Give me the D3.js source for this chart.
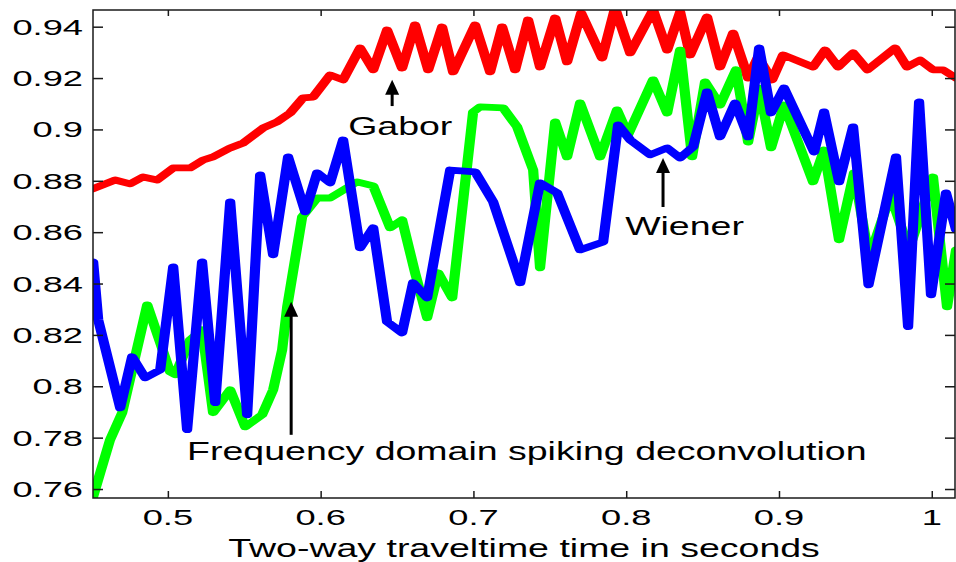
<!DOCTYPE html>
<html>
<head>
<meta charset="utf-8">
<script src="https://cdn.jsdelivr.net/npm/d3@7"></script>
<style>
  html, body { margin: 0; padding: 0; background: #fff; }
  svg { display: block; }
  text { font-family: "Liberation Sans", Arial, Helvetica, sans-serif; fill: #000; }
</style>
</head>
<body>
<svg id="chart" width="956" height="562"></svg>
<script>
// Two-way traveltime (s) and correlation values for each deconvolution method
const gaborT = [0.4505,0.4655,0.4753,0.4838,0.4930,0.5035,0.5146,0.5231,0.5296,0.5408,0.5493,0.5624,0.5715,0.5800,0.5885,0.5951,0.6062,0.6147,0.6258,0.6344,0.6435,0.6533,0.6618,0.6704,0.6795,0.6867,0.7011,0.7109,0.7188,0.7273,0.7358,0.7436,0.7535,0.7613,0.7705,0.7842,0.7927,0.8026,0.8176,0.8268,0.8353,0.8418,0.8529,0.8614,0.8700,0.8798,0.8863,0.8955,0.9027,0.9223,0.9302,0.9387,0.9485,0.9579,0.9760,0.9838,0.9923,1.0008,1.0074,1.0159];
const gaborV = [0.8768,0.8803,0.8788,0.8815,0.8803,0.8850,0.8850,0.8881,0.8893,0.8928,0.8947,0.9006,0.9029,0.9064,0.9123,0.9126,0.9212,0.9193,0.9317,0.9232,0.9387,0.9239,0.9407,0.9232,0.9399,0.9224,0.9407,0.9224,0.9399,0.9232,0.9426,0.9243,0.9434,0.9263,0.9453,0.9278,0.9473,0.9298,0.9465,0.9309,0.9457,0.9290,0.9438,0.9243,0.9375,0.9200,0.9282,0.9193,0.9290,0.9243,0.9309,0.9243,0.9298,0.9232,0.9317,0.9243,0.9270,0.9232,0.9232,0.9200];

const freqT = [0.4511,0.4557,0.4622,0.4701,0.4865,0.5015,0.5048,0.5146,0.5224,0.5296,0.5408,0.5506,0.5617,0.5689,0.5748,0.5781,0.5879,0.5977,0.6062,0.6239,0.6344,0.6455,0.6533,0.6618,0.6697,0.6769,0.6861,0.6998,0.7044,0.7194,0.7286,0.7391,0.7436,0.7535,0.7613,0.7698,0.7829,0.7940,0.8012,0.8176,0.8268,0.8353,0.8431,0.8516,0.8614,0.8719,0.8798,0.8870,0.8948,0.9033,0.9223,0.9295,0.9393,0.9491,0.9590,0.9730,0.9851,1.0008,1.0100,1.0159];
const freqV = [0.7570,0.7663,0.7792,0.7897,0.8317,0.8056,0.8045,0.8181,0.8220,0.7897,0.7986,0.7842,0.7889,0.7986,0.8142,0.8309,0.8660,0.8733,0.8733,0.8796,0.8780,0.8617,0.8648,0.8442,0.8267,0.8442,0.8344,0.9068,0.9088,0.9084,0.9010,0.8842,0.8461,0.9029,0.8893,0.9103,0.8893,0.9076,0.8979,0.9193,0.9064,0.9309,0.8893,0.9185,0.9095,0.9232,0.8951,0.9161,0.8928,0.9095,0.8796,0.8920,0.8570,0.8831,0.8500,0.8745,0.8531,0.8815,0.8309,0.8531];

const wienerT = [0.4511,0.4544,0.4688,0.4766,0.4851,0.4950,0.5035,0.5126,0.5224,0.5310,0.5408,0.5519,0.5604,0.5689,0.5787,0.5899,0.5977,0.6062,0.6147,0.6258,0.6344,0.6435,0.6533,0.6605,0.6697,0.6848,0.7011,0.7129,0.7306,0.7436,0.7548,0.7698,0.7849,0.7947,0.8026,0.8156,0.8268,0.8353,0.8438,0.8529,0.8614,0.8713,0.8798,0.8870,0.8948,0.9033,0.9230,0.9295,0.9393,0.9485,0.9586,0.9766,0.9845,0.9917,0.9995,1.0093,1.0159];
const wienerV = [0.8484,0.8259,0.7916,0.8115,0.8033,0.8064,0.8465,0.7831,0.8484,0.7936,0.8718,0.7889,0.8823,0.8512,0.8893,0.8679,0.8831,0.8792,0.8959,0.8539,0.8617,0.8251,0.8208,0.8403,0.8344,0.8842,0.8835,0.8718,0.8403,0.8792,0.8753,0.8531,0.8562,0.9018,0.8959,0.8901,0.8928,0.8889,0.8932,0.9146,0.8971,0.9103,0.8971,0.9317,0.9064,0.9161,0.8912,0.9068,0.8796,0.9010,0.8395,0.8893,0.8232,0.9107,0.8356,0.8753,0.8609];

const xTicks = [0.5, 0.6, 0.7, 0.8, 0.9, 1.0];
const xTickLabels = ["0.5", "0.6", "0.7", "0.8", "0.9", "1"];
const yTicks = [0.76, 0.78, 0.80, 0.82, 0.84, 0.86, 0.88, 0.90, 0.92, 0.94];
const yTickLabels = ["0.76", "0.78", "0.8", "0.82", "0.84", "0.86", "0.88", "0.9", "0.92", "0.94"];

// Callouts: arrow from (t, v0) up to (t, v1); label anchored at (lt, lv)
const notes = [
  { label: "Gabor", t: 0.6468, v0: 0.9091, v1: 0.9193, lt: 0.6180, lv: 0.8979 },
  { label: "Wiener", t: 0.8241, v0: 0.8698, v1: 0.8889, lt: 0.7993, lv: 0.8589 },
  { label: "Frequency domain spiking deconvolution", t: 0.5807, v0: 0.7811, v1: 0.8329, lt: 0.5126, lv: 0.7714 }
];

const series = [
  { name: "Gabor", t: gaborT, v: gaborV, color: "#ff0000" },
  { name: "Frequency domain", t: freqT, v: freqV, color: "#00ff00" },
  { name: "Wiener", t: wienerT, v: wienerV, color: "#0000ff" }
];

const plot = { left: 93, right: 955, top: 10, bottom: 498 };
const sx = 1.5;          // horizontal stretch of the figure
const fontTick = 22, sxTick = 1.65;
const fontText = 25;

const svg = d3.select("#chart");
const x = d3.scaleLinear().domain([0.451, 1.0152]).range([plot.left, plot.right]);
const y = d3.scaleLinear().domain([0.7565, 0.9465]).range([plot.bottom, plot.top]);

// Lines are drawn in a horizontally stretched frame so strokes widen on steep segments
const xs = d3.scaleLinear().domain(x.domain()).range([plot.left / sx, plot.right / sx]);
const stretched = svg.append("g").attr("transform", `scale(${sx},1)`);
stretched.append("clipPath").attr("id", "plotClip")
  .append("rect")
  .attr("x", plot.left / sx).attr("y", plot.top)
  .attr("width", (plot.right - plot.left) / sx).attr("height", plot.bottom - plot.top);
const linesG = stretched.append("g").attr("clip-path", "url(#plotClip)");

const line = d3.line().x(d => xs(d[0])).y(d => y(d[1]));
series.forEach(s => {
  linesG.append("path")
    .datum(s.t.map((t, i) => [t, s.v[i]]))
    .attr("d", line)
    .attr("fill", "none")
    .attr("stroke", s.color)
    .attr("stroke-width", 6.8)
    .attr("stroke-linejoin", "round")
    .attr("stroke-linecap", "round");
});

// Axes box
svg.append("rect")
  .attr("x", plot.left).attr("y", plot.top)
  .attr("width", plot.right - plot.left).attr("height", plot.bottom - plot.top)
  .attr("fill", "none").attr("stroke", "#1a1a1a").attr("stroke-width", 1.5);

// Bottom axis (inward ticks) and mirrored top ticks
const xAxis = d3.axisBottom(x).tickValues(xTicks).tickSize(-7).tickFormat("");
const gx = svg.append("g").attr("transform", `translate(0,${plot.bottom})`).call(xAxis);
const xAxisTop = d3.axisTop(x).tickValues(xTicks).tickSize(-6).tickFormat("");
const gxt = svg.append("g").attr("transform", `translate(0,${plot.top})`).call(xAxisTop);
const yAxis = d3.axisLeft(y).tickValues(yTicks).tickSize(-10).tickFormat("");
const gy = svg.append("g").attr("transform", `translate(${plot.left},0)`).call(yAxis);
const yAxisR = d3.axisRight(y).tickValues(yTicks).tickSize(-10).tickFormat("");
const gyr = svg.append("g").attr("transform", `translate(${plot.right},0)`).call(yAxisR);
[gx, gxt, gy, gyr].forEach(g => {
  g.select(".domain").remove();
  g.selectAll(".tick line").attr("stroke", "#1a1a1a").attr("stroke-width", 1.5);
});

// Tick labels (stretched text)
svg.append("g").selectAll("text").data(xTicks).join("text")
  .attr("transform", d => `translate(${x(d)},525) scale(${sxTick},1)`)
  .attr("text-anchor", "middle")
  .attr("font-size", fontTick)
  .text((d, i) => xTickLabels[i]);

svg.append("g").selectAll("text").data(yTicks).join("text")
  .attr("transform", d => `translate(83,${y(d) + 8}) scale(${sxTick},1)`)
  .attr("text-anchor", "end")
  .attr("font-size", fontTick)
  .text((d, i) => yTickLabels[i]);

// Axis title
svg.append("text")
  .attr("transform", `translate(${(plot.left + plot.right) / 2},557) scale(${sx},1)`)
  .attr("text-anchor", "middle")
  .attr("font-size", fontText)
  .text("Two-way traveltime time in seconds");

// Callout arrows and labels
const notesG = svg.append("g");
notes.forEach(n => {
  const ax = x(n.t), y0 = y(n.v0), y1 = y(n.v1);
  notesG.append("line")
    .attr("x1", ax).attr("x2", ax)
    .attr("y1", y0).attr("y2", y1 + 10)
    .attr("stroke", "#000").attr("stroke-width", 3);
  notesG.append("path")
    .attr("d", `M${ax},${y1} L${ax - 7},${y1 + 15} L${ax + 7},${y1 + 15} Z`)
    .attr("fill", "#000");
  notesG.append("text")
    .attr("transform", `translate(${x(n.lt)},${y(n.lv)}) scale(${sx},1)`)
    .attr("font-size", fontText)
    .text(n.label);
});
</script>
</body>
</html>
